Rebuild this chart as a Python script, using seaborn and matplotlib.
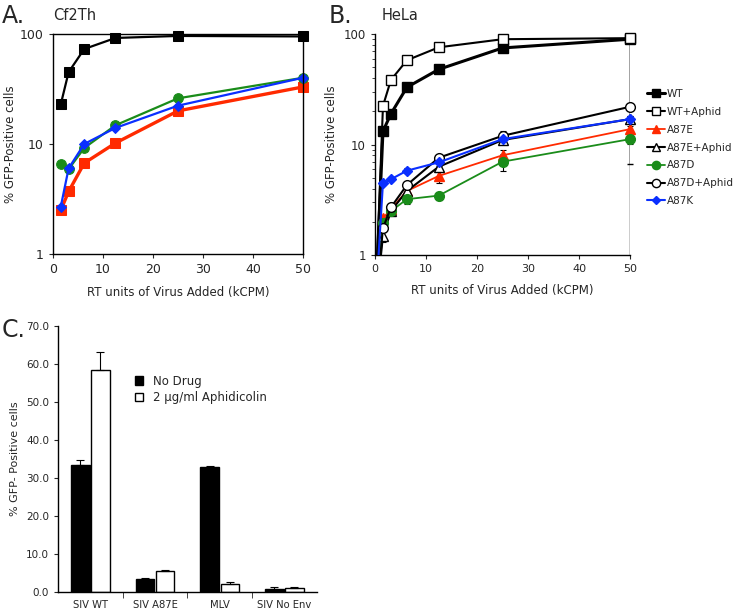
import numpy as np
import pandas as pd
import matplotlib
matplotlib.use("Agg")
import matplotlib.pyplot as plt
import matplotlib.ticker as mticker
from matplotlib.transforms import Bbox, TransformedBbox
import seaborn as sns

sns.set_style("ticks")
plt.rcParams['font.family'] = ['DejaVu Sans']

# Panel A: Cf2Th
rt_units = [1.5625, 3.125, 6.25, 12.5, 25, 50]
a_wt = [23, 45, 73, 92, 96, 95]
a_a87e = [2.5, 3.7, 6.7, 10.2, 20, 33]
a_a87d = [6.6, 5.9, 9.2, 14.8, 26, 40]
a_a87k = [2.7, 6.0, 10, 14, 22.3, 40]

# Panel B: HeLa (first point at 0 RT units, below the axis)
rt_units_b = [0, 1.5625, 3.125, 6.25, 12.5, 25, 50]
b_wt = [0.3, 13.2, 19, 33, 48, 75, 90]
b_wt_aph = [0.3, 22.4, 38.5, 58, 76, 90, 92]
b_a87e = [0.3, 2.15, 2.6, 3.8, 5.2, 8.0, 13.8]
b_a87e_aph = [0.3, 1.5, 2.5, 3.8, 6.3, 11, 17]
b_a87d = [0.3, 1.95, 2.5, 3.2, 3.45, 7.0, 11.2]
b_a87d_aph = [0.3, 1.75, 2.7, 4.3, 7.6, 12, 22]
b_a87k = [0.3, 4.5, 4.85, 5.8, 6.9, 11.2, 17]
b_err_a87e = [0, 0.15, 0.2, 0.3, 0.7, 1.0, 1.0]
b_err_a87e_aph = [0, 0.2, 0.2, 0.3, 0.5, 0.8, 1.0]
b_err_a87d = [0, 0.15, 0.2, 0.3, 0.3, 1.2, 1.0]
b_err_a87d_aph = [0, 0.15, 0.2, 0.3, 0.4, 1.3, 1.5]
b_err_a87k = [0, 0.2, 0.2, 0.3, 0.5, 0.8, 1.0]
b_err_wt_low = [0, 0, 0, 0, 0, 0, 83.4]
b_err_wt_aph_low = [0, 0, 0, 0, 0, 0, 91.9]

# Panel C
viruses = ["SIV WT", "SIV A87E", "MLV", "SIV No Env"]
treatments = ["No Drug", "2 \u03bcg/ml Aphidicolin"]
c_no_drug = [33.3, 3.3, 32.9, 0.9]
c_aphid = [58.3, 5.4, 2.1, 1.0]
c_err_no_drug = [1.5, 0.4, 0.3, 0.3]
c_err_aphid = [5.0, 0.3, 0.5, 0.2]

fig = plt.figure(figsize=(7.33, 6.10), dpi=100)
axA = fig.add_axes([0.0723, 0.5836, 0.341, 0.3607])
axB = fig.add_axes([0.5116, 0.582, 0.348, 0.362])
axC = fig.add_axes([0.0791, 0.0295, 0.353, 0.436])


def loosen_clip(ax):
    # clip only at the bottom so edge markers stay whole
    box = TransformedBbox(Bbox([[-0.1, 0.0], [1.1, 1.1]]), ax.transAxes)
    for ln in ax.lines:
        ln.set_clip_box(box)
        ln.set_clip_path(None)


# ---- Panel A
for vals, col, mk, lw in [(a_wt, "black", "s", 1.6), (a_a87e, "#ff2a00", "s", 2.4),
                          (a_a87d, "#1a8c1a", "o", 1.6), (a_a87k, "#0a2fff", "D", 1.6)]:
    sns.lineplot(x=rt_units, y=vals, ax=axA, color=col, marker=mk, lw=lw,
                 markersize=7 if mk != "D" else 5.5, markeredgecolor=col,
                 markerfacecolor=col)
loosen_clip(axA)
axA.set_yscale("log")
axA.set_ylim(1, 100)
axA.set_xlim(0, 50)
axA.yaxis.set_minor_locator(mticker.NullLocator())
axA.yaxis.set_major_formatter(mticker.FuncFormatter(lambda v, p: f"{v:g}"))
axA.set_xticks(range(0, 51, 10))
axA.tick_params(labelsize=9, direction="out", length=3)
axA.set_xlabel("RT units of Virus Added (kCPM)", fontsize=8.5, labelpad=7)
axA.set_ylabel("% GFP-Positive cells", fontsize=8.5, labelpad=2)
for s in axA.spines.values():
    s.set_linewidth(1.0)
    s.set_color("black")

# ---- Panel B
b_series = [
    ("WT", b_wt, "black", "s", "black", 2.2, None),
    ("WT+Aphid", b_wt_aph, "black", "s", "white", 1.5, None),
    ("A87E", b_a87e, "#ff2a00", "^", "#ff2a00", 1.3, b_err_a87e),
    ("A87E+Aphid", b_a87e_aph, "black", "^", "white", 1.5, b_err_a87e_aph),
    ("A87D", b_a87d, "#1a8c1a", "o", "#1a8c1a", 1.3, b_err_a87d),
    ("A87D+Aphid", b_a87d_aph, "black", "o", "white", 1.5, b_err_a87d_aph),
    ("A87K", b_a87k, "#0a2fff", "D", "#0a2fff", 1.5, b_err_a87k),
]
for name, vals, col, mk, fc, lw, err in b_series:
    if err is not None:
        axB.errorbar(rt_units_b, vals, yerr=err, fmt="none", ecolor="black",
                     elinewidth=0.8, capsize=2.5, capthick=0.8, zorder=1)
    sns.lineplot(x=rt_units_b, y=vals, ax=axB, color=col, marker=mk, lw=lw,
                 markersize=7 if mk != "D" else 5, markeredgecolor=col if fc != "white" else "black",
                 markerfacecolor=fc, markeredgewidth=1.0, label=name, zorder=3)
axB.errorbar(rt_units_b, b_wt, yerr=[b_err_wt_low, [0] * 7], fmt="none", ecolor="black",
             elinewidth=1.0, capsize=2.5, capthick=1.0, zorder=1)
axB.errorbar(rt_units_b, b_wt_aph, yerr=[b_err_wt_aph_low, [0] * 7], fmt="none", ecolor="black",
             elinewidth=1.0, capsize=0, zorder=1)
loosen_clip(axB)
axB.set_yscale("log")
axB.set_ylim(1, 100)
axB.set_xlim(0, 50)
axB.yaxis.set_major_formatter(mticker.FuncFormatter(lambda v, p: f"{v:g}"))
axB.yaxis.set_minor_formatter(mticker.NullFormatter())
axB.set_xticks(range(0, 51, 10))
axB.tick_params(axis="x", labelsize=8, direction="out", length=3)
axB.tick_params(axis="y", labelsize=8.5, direction="out", length=3)
axB.tick_params(axis="y", which="minor", direction="out", length=2)
axB.set_xlabel("RT units of Virus Added (kCPM)", fontsize=8.5, labelpad=7)
axB.set_ylabel("% GFP-Positive cells", fontsize=8.5)
sns.despine(ax=axB)
for s in axB.spines.values():
    s.set_linewidth(1.0)
    s.set_color("black")
axB.legend(loc="upper left", bbox_to_anchor=(1.05, 0.77), frameon=False, fontsize=7.5,
           handlelength=1.7, handletextpad=0.2, labelspacing=0.75, borderaxespad=0,
           markerscale=0.85)

# ---- Panel C
df_c = pd.DataFrame({
    "virus": viruses * 2,
    "treatment": [treatments[0]] * 4 + [treatments[1]] * 4,
    "value": c_no_drug + c_aphid,
})
sns.barplot(data=df_c, x="virus", y="value", hue="treatment", order=viruses,
            hue_order=treatments, palette=["black", "white"], edgecolor="black",
            linewidth=1.0, width=0.62, gap=0.08, errorbar=None, ax=axC)
for cont, errs in zip(axC.containers, [c_err_no_drug, c_err_aphid]):
    xs = [b.get_x() + b.get_width() / 2 for b in cont]
    hs = [b.get_height() for b in cont]
    axC.errorbar(xs, hs, yerr=[[0] * 4, errs], fmt="none", ecolor="black",
                 elinewidth=0.8, capsize=3, capthick=0.8)
axC.set_xlim(-0.5, 3.5)
axC.set_ylim(0, 70)
axC.set_yticks(np.arange(0, 71, 10))
axC.yaxis.set_major_formatter(mticker.FormatStrFormatter("%.1f"))
axC.set_xticks([0.5, 1.5, 2.5], minor=True)
axC.tick_params(axis="x", which="major", length=0, labelsize=7.2, pad=6)
axC.tick_params(axis="x", which="minor", length=4, direction="out")
axC.tick_params(axis="y", labelsize=7.5, direction="out", length=3)
axC.set_xlabel("")
axC.set_ylabel("% GFP- Positive cells", fontsize=8)
sns.despine(ax=axC)
for s in axC.spines.values():
    s.set_linewidth(1.0)
    s.set_color("black")
axC.legend(loc="upper left", bbox_to_anchor=(0.28, 0.835), frameon=False, fontsize=8.5,
           handlelength=0.7, handleheight=0.7, handletextpad=0.8, labelspacing=0.3,
           borderaxespad=0)

# Panel letters and titles
fig.text(0.002, 0.993, "A.", fontsize=17, va="top", ha="left")
fig.text(0.0723, 0.975, "Cf2Th", fontsize=10.5, va="center", ha="left")
fig.text(0.449, 0.993, "B.", fontsize=17, va="top", ha="left")
fig.text(0.521, 0.975, "HeLa", fontsize=10.5, va="center", ha="left")
fig.text(0.002, 0.478, "C.", fontsize=17, va="top", ha="left")

fig.savefig("out.png", dpi=100)
